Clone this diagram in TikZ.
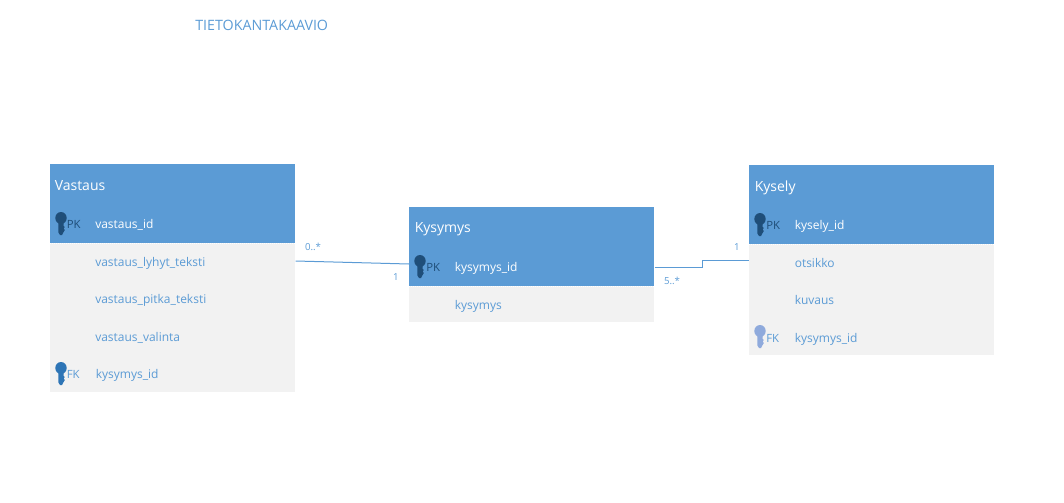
\documentclass[tikz,border=0pt]{standalone}
\usepackage{fontspec}
\setmainfont{Open Sans}
\definecolor{hdr}{HTML}{5B9BD5}
\definecolor{bodyc}{HTML}{F2F2F2}
\definecolor{pkdark}{HTML}{1F4E79}
\definecolor{fkmid}{HTML}{2E75B6}
\definecolor{fklight}{HTML}{8FAADC}
\tikzset{
  x=0.75pt,y=-0.75pt,
  header/.style={fill=hdr,draw=none,inner sep=0pt,minimum width=183.75pt,anchor=north west},
  tablebody/.style={fill=bodyc,draw=none,inner sep=0pt,minimum width=183.75pt,anchor=north west},
  title/.style={text=white,font=\fontsize{10.5}{12}\selectfont,anchor=base west,inner sep=0pt},
  pkfield/.style={text=white,font=\fontsize{9}{10}\selectfont,anchor=base west,inner sep=0pt},
  field/.style={text=hdr,font=\fontsize{9}{10}\selectfont,anchor=base west,inner sep=0pt},
  tagpk/.style={text=pkdark,font=\fontsize{8.5}{10}\selectfont,anchor=base west,inner sep=0pt},
  tagfk/.style={text=hdr,font=\fontsize{8.5}{10}\selectfont,anchor=base west,inner sep=0pt},
  card/.style={text=hdr,font=\fontsize{7.25}{8}\selectfont,inner sep=0pt},
  link/.style={draw=hdr,line width=0.75pt},
  sep/.style={draw=white,line width=0.5pt,densely dotted},
  pics/dbkey/.style={code={
    \fill[#1] (0,-6) circle[x radius=5.7,y radius=6];
    \fill[#1] (-2.6,-1) -- (2.6,-1) -- (2.6,2) -- (3.8,3) -- (2.6,4.5) -- (3.8,6) -- (2.6,8) -- (1,11) -- (-1,11) -- (-2.6,8.5) -- cycle;
  }}
}
\begin{document}
\begin{tikzpicture}
\useasboundingbox (0,0) rectangle (1064,503);
\node[text=hdr,font=\fontsize{10.7}{12}\selectfont,anchor=base west,inner sep=0pt] (heading) at (195,31) {TIETOKANTAKAAVIO};

% Vastaus
\node[header,minimum height=59.25pt] (vh) at (50,164) {};
\node[tablebody,minimum height=111.75pt] (vb) at (50,243) {};
\draw[sep] (vh.south west) -- (vh.south east);
\node[title] (vt) at (54.5,190) {Vastaus};
\pic at (61,224) {dbkey=pkdark};
\node[tagpk] (vpk) at (66.5,228) {PK};
\node[pkfield] (v1) at (95,228) {vastaus\_id};
\node[field] (v2) at (95,266) {vastaus\_lyhyt\_teksti};
\node[field] (v3) at (95,303) {vastaus\_pitka\_teksti};
\node[field] (v4) at (95,341) {vastaus\_valinta};
\pic at (61,374) {dbkey=fkmid};
\node[tagfk] (vfk) at (66.5,378) {FK};
\node[field] (v5) at (95.5,378) {kysymys\_id};

% Kysymys
\node[header,minimum height=59.25pt] (qh) at (409,207) {};
\node[tablebody,minimum height=27pt] (qb) at (409,286) {};
\draw[sep] (qh.south west) -- (qh.south east);
\node[title] (qt) at (414.5,232) {Kysymys};
\pic at (420,267) {dbkey=pkdark};
\node[tagpk] (qpk) at (426,271) {PK};
\node[pkfield] (q1) at (454.5,271) {kysymys\_id};
\node[field] (q2) at (454.5,309) {kysymys};

% Kysely
\node[header,minimum height=59.25pt] (kh) at (749,165) {};
\node[tablebody,minimum height=83.25pt] (kb) at (749,244) {};
\draw[sep] (kh.south west) -- (kh.south east);
\node[title] (kt) at (754.5,191) {Kysely};
\pic at (760,225) {dbkey=pkdark};
\node[tagpk] (kpk) at (766,229) {PK};
\node[pkfield] (k1) at (794.5,229) {kysely\_id};
\node[field] (k2) at (794.5,267) {otsikko};
\node[field] (k3) at (794.5,304) {kuvaus};
\pic at (760,337) {dbkey=fklight};
\node[tagfk] (kfk) at (766,342) {FK};
\node[field] (k4) at (794.5,342) {kysymys\_id};

% connectors
\draw[link] (vb.north east) ++(0,18) coordinate (a1) -- (qh.north west |- 0,264) coordinate (a2);
\draw[link] (qh.north east |- 0,267) coordinate (b1) -- (702,267) coordinate (b2) -- (702,260) coordinate (b3) -- (kb.north west |- 0,260) coordinate (b4);

\node[card] (c1) at (313,247) {0..*};
\node[card] (c2) at (396,277) {1};
\node[card] (c3) at (672,281) {5..*};
\node[card] (c4) at (737,247) {1};
\end{tikzpicture}
\end{document}
